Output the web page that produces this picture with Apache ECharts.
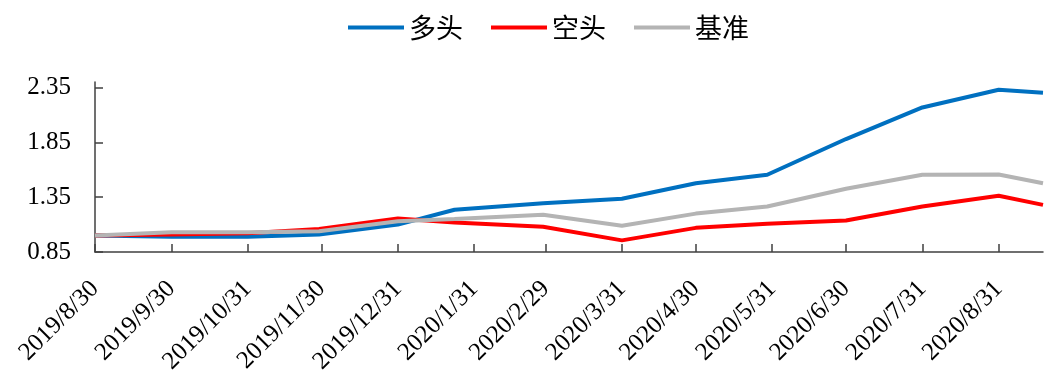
<!DOCTYPE html>
<html>
<head>
<meta charset="utf-8">
<script src="https://cdn.jsdelivr.net/npm/echarts@6/dist/echarts.min.js"></script>
<style>
html,body{margin:0;padding:0;background:#fff;}
#chart{width:1059px;height:384px;}
</style>
</head>
<body>
<div id="chart"></div>
<script>
// Data (trading dates of each observation)
const dates = ['2019/8/30','2019/9/30','2019/10/31','2019/11/29','2019/12/31','2020/1/23','2020/2/28','2020/3/31','2020/4/30','2020/5/29','2020/6/30','2020/7/31','2020/8/31','2020/9/18'];
const longVals  = [1.00,0.99,0.99,1.01,1.10,1.235,1.295,1.335,1.477,1.554,1.88,2.168,2.329,2.302];
const shortVals = [1.00,1.01,1.02,1.06,1.155,1.12,1.08,0.956,1.07,1.108,1.138,1.265,1.363,1.28];
const benchVals = [1.00,1.03,1.03,1.04,1.13,1.15,1.19,1.09,1.20,1.265,1.426,1.554,1.556,1.477];
const tickLabels = ['2019/8/30','2019/9/30','2019/10/31','2019/11/30','2019/12/31','2020/1/31','2020/2/29','2020/3/31','2020/4/30','2020/5/31','2020/6/30','2020/7/31','2020/8/31'];
const yTicks = [0.85,1.35,1.85,2.35];
const seriesNames = ['多头','空头','基准'];

// day number (calendar days since the first observation) used as the x scale
function dayNum(s){const p=s.split('/').map(Number);return Math.round((Date.UTC(p[0],p[1]-1,p[2])-Date.UTC(2019,7,30))/86400000);}
const tickDays = tickLabels.map(dayNum);
const labelMap = {};
tickLabels.forEach((l,i)=>{labelMap[tickDays[i]]=l;});
function pairs(vals){return dates.map((d,i)=>[dayNum(d),vals[i]]);}

const chart = echarts.init(document.getElementById('chart'));
const serif = '"Liberation Serif","Times New Roman",serif';
chart.setOption({
  animation:false,
  backgroundColor:'#fff',
  legend:{
    top:9,left:343,
    icon:'rect',itemWidth:56,itemHeight:4,itemGap:28,
    textStyle:{fontFamily:'"Noto Sans CJK SC",sans-serif',fontSize:27,color:'#000'},
    data:seriesNames
  },
  grid:{left:95,right:16,top:82,bottom:132,containLabel:false},
  xAxis:{
    type:'value',
    min:dayNum(dates[0]),max:dayNum(dates[dates.length-1]),
    axisLine:{lineStyle:{color:'#404040',width:1.5}},
    axisTick:{show:true,inside:true,length:8,customValues:tickDays,lineStyle:{color:'#404040',width:1.5}},
    axisLabel:{customValues:tickDays,rotate:45,margin:33,hideOverlap:false,
      fontFamily:serif,fontSize:25,color:'#000',
      formatter:function(v){return labelMap[Math.round(v)]||'';}},
    splitLine:{show:false}
  },
  yAxis:{
    type:'value',min:0.85,max:2.4,
    axisLine:{show:true,lineStyle:{color:'#404040',width:1.5}},
    axisTick:{show:true,inside:true,length:8,customValues:yTicks,lineStyle:{color:'#404040',width:1.5}},
    axisLabel:{customValues:yTicks,margin:24,fontFamily:serif,fontSize:25,color:'#000',
      formatter:function(v){return v.toFixed(2);}},
    splitLine:{show:false}
  },
  series:[
    {name:seriesNames[0],type:'line',data:pairs(longVals),showSymbol:false,symbol:'none',
      lineStyle:{color:'#0070C0',width:4},itemStyle:{color:'#0070C0'}},
    {name:seriesNames[1],type:'line',data:pairs(shortVals),showSymbol:false,symbol:'none',
      lineStyle:{color:'#FF0000',width:4},itemStyle:{color:'#FF0000'}},
    {name:seriesNames[2],type:'line',data:pairs(benchVals),showSymbol:false,symbol:'none',
      lineStyle:{color:'#B4B4B4',width:4},itemStyle:{color:'#B4B4B4'}}
  ]
});
</script>
</body>
</html>
